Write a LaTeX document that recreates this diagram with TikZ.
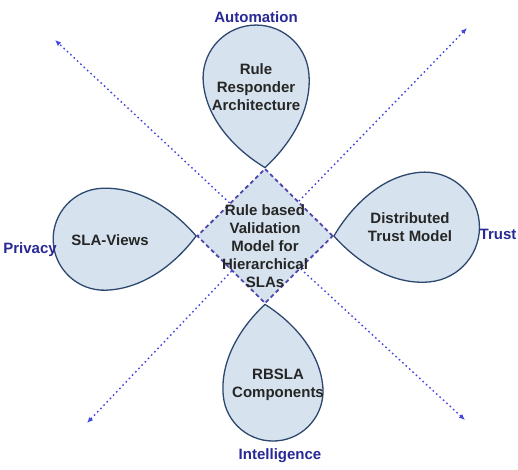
\documentclass[tikz,border=0pt]{standalone}
\usepackage{fontspec}
\setmainfont{Liberation Sans}
\usetikzlibrary{arrows.meta,shapes.geometric}
\definecolor{dropfill}{RGB}{214,226,238}
\definecolor{dropline}{RGB}{44,72,110}
\definecolor{coreline}{RGB}{78,70,170}
\definecolor{axisblue}{RGB}{68,68,228}
\definecolor{labelblue}{RGB}{40,40,150}
\tikzset {
  % teardrop, tip at the origin, round end up
  drop size/.code 2 args = {\def\dropd{#1}\def\dropr{#2}},
  drop/.pic = {
    \path[drop shape] (0,0)
      .. controls (-0.5*\dropr, 0.22*\dropd) and (-\dropr, 0.58*\dropd) .. (-\dropr, \dropd)
      arc[start angle=180, end angle=0, radius=\dropr pt]
      .. controls (\dropr, 0.58*\dropd) and (0.5*\dropr, 0.22*\dropd) .. (0,0)
      -- cycle;
  },
  drop shape/.style = {
    draw = dropline,
    fill = dropfill,
    line width = 1.3pt
  },
  core/.style = {
    diamond,
    draw = coreline,
    fill = dropfill,
    line width = 1.8pt,
    dash pattern = on 4pt off 3pt,
    minimum width = 136pt,
    minimum height = 135pt,
    inner sep = 0
  },
  axis/.style = {
    draw = axisblue,
    line width = 1.4pt,
    dash pattern = on 1.6pt off 3pt,
    -{Latex[length=6pt,width=5pt]}
  },
  txt/.style = {
    font = \fontsize{15}{18}\selectfont\bfseries,
    text = black!85,
    align = center,
    inner sep = 0
  },
  dim/.style = {
    txt,
    text = labelblue
  }
}
\begin{document}
\begin{tikzpicture}[x=1pt, y=1pt]
    \useasboundingbox (0,0) rectangle (518,-469);

    \node[core] (core) at (265,-236) {};

    \coordinate (nw end) at (55,-40);
    \coordinate (ne end) at (467,-28);
    \coordinate (sw end) at (87,-423);
    \coordinate (se end) at (465,-420);

    % the four axes
    \draw[axis] (core) -- (nw end);
    \draw[axis] (core) -- (ne end);
    \draw[axis] (core) -- (sw end);
    \draw[axis] (core) -- (se end);

    % petals, tip on a corner of the core
    \pic[drop size={90}{53}, rotate=5.7] at (core.north) {drop};
    \pic[drop size={92}{51}, rotate=92] at (core.west) {drop};
    \pic[drop size={91}{55}, rotate=-84.4] at (core.east) {drop};
    \pic[drop size={87}{50}, rotate=185.3] at (core.south) {drop};

    \node[txt] (core text) at (265,-246) {Rule based\\Validation\\Model for\\Hierarchical\\SLAs};

    \node[txt] (rule responder) at (256,-87) {Rule\\Responder\\Architecture};
    \node[txt] (sla views) at (110,-240) {SLA-Views};
    \node[txt] (trust model) at (410,-227) {Distributed\\Trust Model};
    \node[txt] (rbsla) at (278,-385) {RBSLA\\Components};

    \node[dim] (automation) at (256,-17) {Automation};
    \node[dim] (privacy) at (30,-250) {Privacy};
    \node[dim] (trust) at (498,-234) {Trust};
    \node[dim] (intelligence) at (280,-456) {Intelligence};
\end{tikzpicture}
\end{document}
